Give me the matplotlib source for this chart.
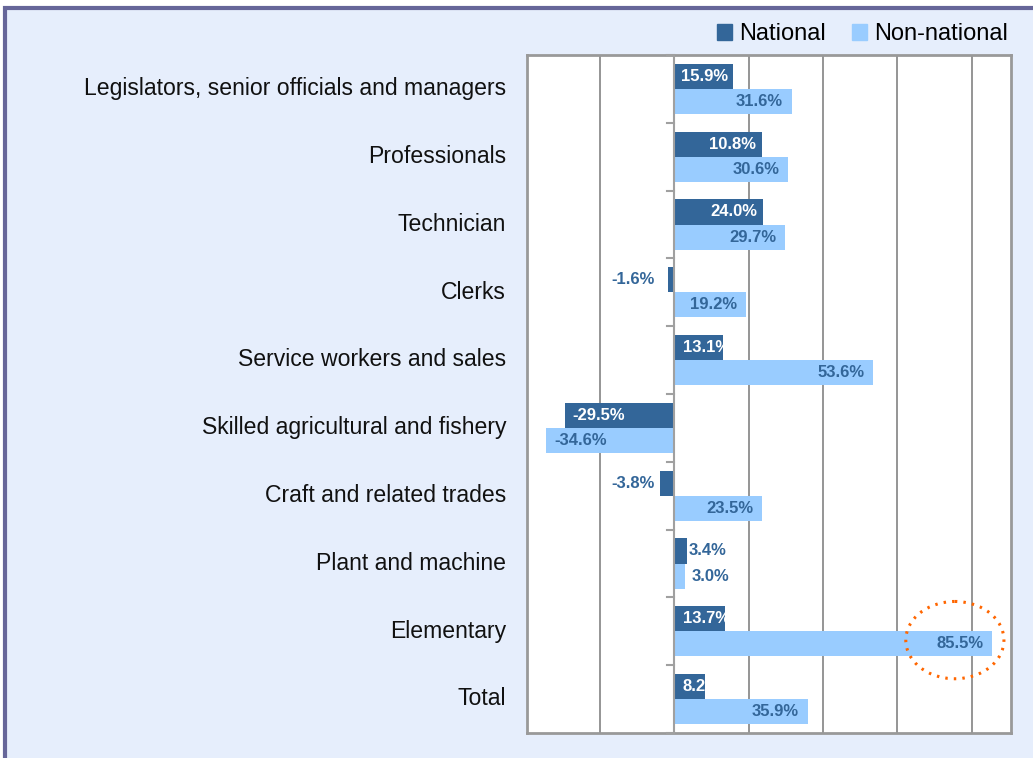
import numpy as np
import matplotlib.pyplot as plt
from matplotlib.patches import Rectangle, Ellipse

plt.rcParams['font.family'] = ['Liberation Sans', 'DejaVu Sans']

# Dados
categories = ['Legislators, senior officials and managers', 'Professionals', 'Technician',
              'Clerks', 'Service workers and sales', 'Skilled agricultural and fishery',
              'Craft and related trades', 'Plant and machine', 'Elementary', 'Total']
national = [15.9, 23.5, 24.0, -1.6, 13.1, -29.5, -3.8, 3.4, 13.7, 8.2]
national_labels = ['15.9%', '10.8%', '24.0%', '-1.6%', '13.1%', '-29.5%', '-3.8%', '3.4%', '13.7%', '8.2%']
non_national = [31.6, 30.6, 29.7, 19.2, 53.6, -34.6, 23.5, 3.0, 85.5, 35.9]
non_national_labels = ['31.6%', '30.6%', '29.7%', '19.2%', '53.6%', '-34.6%', '23.5%', '3.0%', '85.5%', '35.9%']

c_nat = '#336699'
c_non = '#99CCFF'
bg = '#E6EEFC'

fig = plt.figure(figsize=(10.33, 7.58), dpi=100, facecolor='white')
# fundo com moldura
fig.add_artist(Rectangle((5/1033, -0.1), 1.2, 1 - 8/758 + 0.1, transform=fig.transFigure,
                         facecolor=bg, edgecolor='#666699', lw=3, zorder=0))

ax = fig.add_axes([527/1033, 25/758, 484/1033, 678/758])
ax.set_facecolor('white')

y = np.arange(len(categories))
h = 0.37
ax.barh(y - h/2, national, height=h, color=c_nat, zorder=3, label='National')
ax.barh(y + h/2, non_national, height=h, color=c_non, zorder=3, label='Non-national')

ax.set_xlim(-39.6, 90.6)
ax.set_ylim(len(categories) - 0.5, -0.5)

# grade
for gx in [-20, 20, 40, 60, 80]:
    ax.axvline(gx, color='#8C8C8C', lw=1.3, zorder=1)
ax.axvline(0, color='#A0A0A0', lw=1.5, zorder=4)
for b in np.arange(-0.5, len(categories)):
    ax.plot([-2, 0], [b, b], color='#A0A0A0', lw=1.5, zorder=4, clip_on=False)

ax.set_xticks([])
ax.set_yticks(y - 0.04)
ax.set_yticklabels(categories, fontsize=16.6, color='#111111')
ax.tick_params(axis='y', length=0, pad=15)
for s in ax.spines.values():
    s.set_color('#999999')
    s.set_linewidth(2)

fs = 12
# rótulos National
for i, (v, t) in enumerate(zip(national, national_labels)):
    yy = y[i] - h/2
    if v >= 15:
        ax.text(v - 1.5, yy, t, ha='right', va='center', color='white', fontsize=fs, fontweight='bold', zorder=5)
    elif v >= 8:
        ax.text(2.3, yy, t, ha='left', va='center', color='white', fontsize=fs, fontweight='bold', zorder=5)
    elif v > 0:
        ax.text(v + 0.5, yy, t, ha='left', va='center', color=c_nat, fontsize=fs, fontweight='bold', zorder=5)
    elif v < -10:
        ax.text(v + 2.1, yy, t, ha='left', va='center', color='white', fontsize=fs, fontweight='bold', zorder=5)
    else:
        ax.text(-5.2, yy, t, ha='right', va='center', color=c_nat, fontsize=fs, fontweight='bold', zorder=5)

# rótulos Non-national
for i, (v, t) in enumerate(zip(non_national, non_national_labels)):
    yy = y[i] + h/2
    if v >= 10:
        ax.text(v - 2.3, yy, t, ha='right', va='center', color=c_nat, fontsize=fs, fontweight='bold', zorder=5)
    elif v > 0:
        ax.text(v + 1.6, yy, t, ha='left', va='center', color=c_nat, fontsize=fs, fontweight='bold', zorder=5)
    else:
        ax.text(v + 2.4, yy, t, ha='left', va='center', color=c_nat, fontsize=fs, fontweight='bold', zorder=5)

# destaque
ax.add_patch(Ellipse((75.5, 8.13), 26.4, 1.14, fill=False, edgecolor='#FF6600',
                     linestyle=(0, (0.8, 2.0)), lw=2.2, zorder=6, clip_on=False))

handles = [Rectangle((0, 0), 1, 1, color=c_nat), Rectangle((0, 0), 1, 1, color=c_non)]
fig.legend(handles, ['National', 'Non-national'], loc='center right', bbox_to_anchor=(1020/1033, 1 - 34/758),
           ncol=2, frameon=False, fontsize=17, handlelength=0.65, handleheight=0.65,
           handletextpad=0.3, columnspacing=1.1, borderpad=0)

plt.savefig('out.png', dpi=100, facecolor=fig.get_facecolor())
